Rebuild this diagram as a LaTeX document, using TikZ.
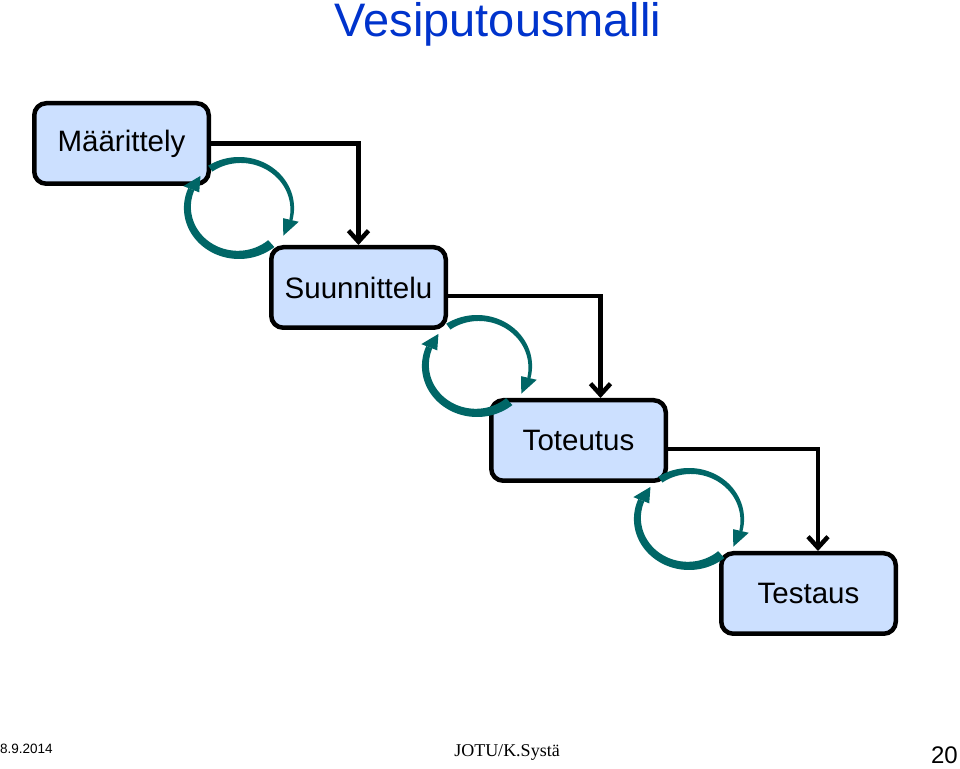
\documentclass[tikz,border=0pt]{standalone}
\usepackage{fontspec}
\setmainfont{Liberation Sans}
\newfontfamily\timesfont{Liberation Serif}
\usetikzlibrary{arrows.meta}

\definecolor{boxfill}{RGB}{204,224,255}
\definecolor{titleblue}{RGB}{0,51,204}
\definecolor{loopteal}{RGB}{0,102,102}

\tikzset{
  phase/.style={draw=black, line width=4.5pt, fill=boxfill, rounded corners=12pt,
    minimum width=174.5pt, minimum height=80.5pt, font=\fontsize{29.5}{32}\selectfont},
  flow/.style={line width=4.5pt, -{Straight Barb[length=11pt,width=20pt]}},
  loopback/.pic={
    \begin{scope}[xscale=1.08, fill=loopteal]
      %% upper arrow
      \fill plot[domain=124:-14,samples=40] ({51*cos(\x)},{51*sin(\x)})
        -- plot[domain=-14:124,samples=40] ({(48-4*(\x+14)/138)*cos(\x)},{(48-4*(\x+14)/138)*sin(\x)})
        -- cycle;
      \fill ({57*cos(-14)},{57*sin(-14)}) -- ({49.5*cos(-34)},{49.5*sin(-34)})
        -- ({42*cos(-14)},{42*sin(-14)}) -- cycle;
      %% lower arrow
      \fill plot[domain=-50:-203,samples=50] ({51*cos(\x)},{51*sin(\x)})
        -- plot[domain=-203:-50,samples=50] ({(45-3*(\x+203)/153)*cos(\x)},{(45-3*(\x+203)/153)*sin(\x)})
        -- cycle;
      \fill ({56*cos(-203)},{56*sin(-203)}) -- ({48*cos(-222)},{48*sin(-222)})
        -- ({40*cos(-203)},{40*sin(-203)}) -- cycle;
    \end{scope}
  }
}

\begin{document}
\begin{tikzpicture}[x=1pt,y=1pt]
    \useasboundingbox (0,0) rectangle (960,768);
    %% Title
    \node[anchor=base, text=titleblue, font=\fontsize{47}{50}\selectfont] (title) at (498,731) {Vesiputousmalli};
    %% Draw the phases
    \node[phase] (Maar) at (121.5,624.5) {Määrittely};
    \node[phase] (Suun) at (358.5,480.5) {Suunnittelu};
    \node[phase] (Tote) at (578.5,327.5) {Toteutus};
    \node[phase] (Test) at (808.5,174.5) {Testaus};
    %% Draw the flow
    \begin{scope}[flow]
      \draw (Maar.east) -| (Suun.north);
      \draw ([yshift=-8.5pt]Suun.east) -| ([xshift=22pt]Tote.north);
      \draw ([yshift=-8.5pt]Tote.east) -| ([xshift=9.5pt]Test.north);
    \end{scope}
    %% Draw the loops back
    \pic at (239,560) {loopback};
    \pic at (477,402) {loopback};
    \pic at (689,249) {loopback};
    %% Footer
    \node[anchor=base west, inner sep=0pt, font=\fontsize{13.5}{15}\selectfont] (date) at (0,15) {8.9.2014};
    \node[anchor=base, inner sep=0pt, font=\timesfont\fontsize{18}{20}\selectfont] (author) at (507,12) {JOTU/K.Systä};
    \node[anchor=base east, inner sep=0pt, font=\fontsize{24}{26}\selectfont] (page) at (958,5) {20};
  \end{tikzpicture}
\end{document}
